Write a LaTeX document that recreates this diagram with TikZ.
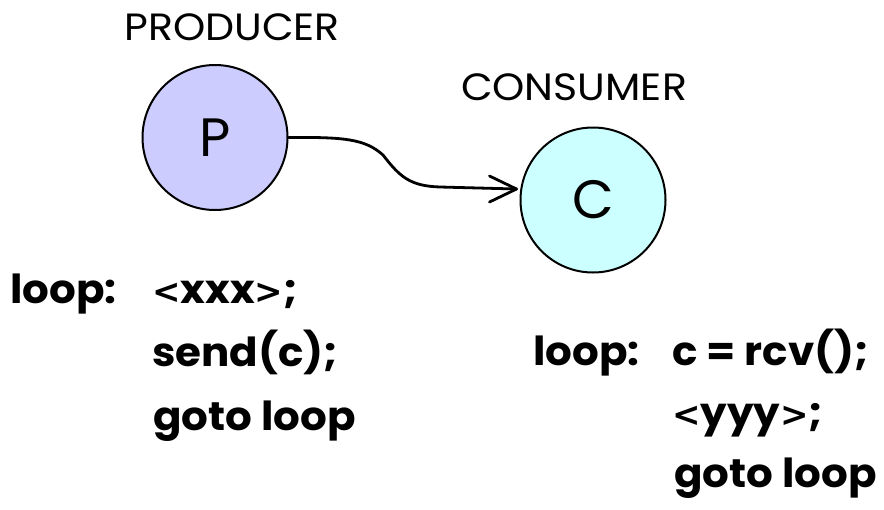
\documentclass[tikz,border=0pt]{standalone}
\usepackage{fontspec}
\setmainfont{Poppins}
\newfontfamily\titlefont[FakeStretch=1.08]{Poppins}
\newfontfamily\codefont[FakeStretch=1.05]{Poppins}
\newfontfamily\symfont{DejaVu Sans}
\newcommand{\lt}{{\symfont\bfseries\fontsize{34}{34}\selectfont <}}
\newcommand{\gt}{{\symfont\bfseries\fontsize{34}{34}\selectfont >}}
\usetikzlibrary{calc}
\definecolor{pfill}{RGB}{204,204,255}
\definecolor{cfill}{RGB}{204,255,255}
\tikzset{
  proc/.style={circle, draw=black, line width=2pt, minimum size=145pt, inner sep=0pt,
    font=\fontsize{54}{54}\selectfont},
  title/.style={font=\titlefont\fontsize{38}{38}\selectfont, anchor=base},
  code/.style={font=\codefont\fontsize{40}{40}\selectfont\bfseries, anchor=base west, inner sep=0pt},
  msg/.style={line width=2.8pt, line cap=round, line join=round}
}
\begin{document}
\begin{tikzpicture}[x=1pt,y=-1pt]
\useasboundingbox (0,0) rectangle (884,509);
\node[proc, fill=pfill] (P) at (215,137.5) {P};
\node[proc, fill=cfill] (C) at (593,200) {C};
\node[title] (ptitle) at (232,40) {PRODUCER};
\node[title] (ctitle) at (574,100) {CONSUMER};
\coordinate (tip) at ($(C.west)+(-3,-11)$);
\draw[msg] (P.east) .. controls (345,137) and (365,139) .. (383,155)
  .. controls (400,177) and (410,186) .. (440,187) -- (tip);
\draw[msg] ($(tip)+(-27,-13)$) -- (tip) -- ($(tip)+(-27,13)$);
\node[code] (l1) at (10,303) {loop:};
\node[code] (l2) at (152,303) {\lt xxx\gt;};
\node[code] (l3) at (152,366) {send(c);};
\node[code] (l4) at (153,430) {goto loop};
\node[code] (r1) at (533,365) {loop:};
\node[code] (r2) at (672,365) {c = rcv();};
\node[code] (r3) at (672,426) {\lt yyy\gt;};
\node[code] (r4) at (674,487) {goto loop};
\end{tikzpicture}
\end{document}
